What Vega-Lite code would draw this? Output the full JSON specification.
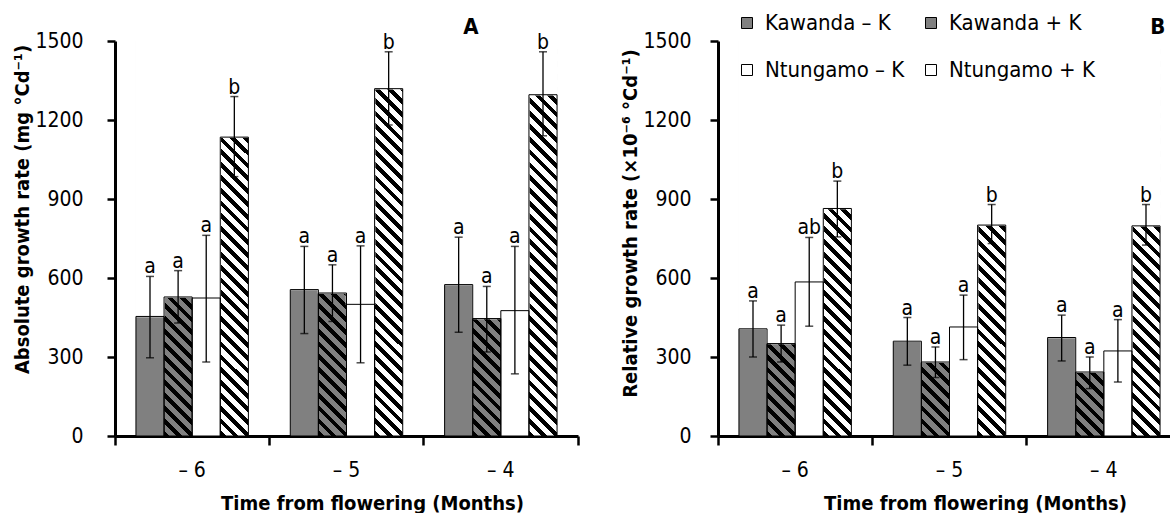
{
 "$schema": "https://vega.github.io/schema/vega-lite/v6.json",
 "background": "white",
 "padding": {"left": 12, "top": 12, "right": 0, "bottom": 0},
 "spacing": 40,
 "resolve": {"scale": {"fill": "independent"}, "legend": {"fill": "independent"}},
 "config": {
  "font": "DejaVu Sans Condensed, Liberation Sans, sans-serif",
  "view": {"stroke": null},
  "axis": {"domainColor": "black", "domainWidth": 3, "tickColor": "black", "tickWidth": 2.5, "labelColor": "black", "labelFontSize": 21, "titleColor": "black", "titleFontSize": 20, "titleFontWeight": "bold", "grid": false},
  "legend": {"labelFontSize": 22, "labelColor": "black", "padding": 0}
 },
 "datasets": {
  "agr": [
   {"month": "– 6", "trt": "Kawanda – K", "mean": 454, "lo": 297, "hi": 606, "sig": "a"},
   {"month": "– 6", "trt": "Kawanda + K", "mean": 528, "lo": 429, "hi": 628, "sig": "a"},
   {"month": "– 6", "trt": "Ntungamo – K", "mean": 524, "lo": 281, "hi": 762, "sig": "a"},
   {"month": "– 6", "trt": "Ntungamo + K", "mean": 1135, "lo": 985, "hi": 1289, "sig": "b"},
   {"month": "– 5", "trt": "Kawanda – K", "mean": 556, "lo": 389, "hi": 720, "sig": "a"},
   {"month": "– 5", "trt": "Kawanda + K", "mean": 543, "lo": 435, "hi": 650, "sig": "a"},
   {"month": "– 5", "trt": "Ntungamo – K", "mean": 500, "lo": 278, "hi": 722, "sig": "a"},
   {"month": "– 5", "trt": "Ntungamo + K", "mean": 1319, "lo": 1181, "hi": 1459, "sig": "b"},
   {"month": "– 4", "trt": "Kawanda – K", "mean": 575, "lo": 394, "hi": 755, "sig": "a"},
   {"month": "– 4", "trt": "Kawanda + K", "mean": 446, "lo": 319, "hi": 568, "sig": "a"},
   {"month": "– 4", "trt": "Ntungamo – K", "mean": 476, "lo": 236, "hi": 720, "sig": "a"},
   {"month": "– 4", "trt": "Ntungamo + K", "mean": 1296, "lo": 1140, "hi": 1459, "sig": "b"}
  ],
  "rgr": [
   {"month": "– 6", "trt": "Kawanda – K", "mean": 407, "lo": 300, "hi": 513, "sig": "a"},
   {"month": "– 6", "trt": "Kawanda + K", "mean": 351, "lo": 281, "hi": 421, "sig": "a"},
   {"month": "– 6", "trt": "Ntungamo – K", "mean": 585, "lo": 417, "hi": 754, "sig": "ab"},
   {"month": "– 6", "trt": "Ntungamo + K", "mean": 864, "lo": 756, "hi": 968, "sig": "b"},
   {"month": "– 5", "trt": "Kawanda – K", "mean": 360, "lo": 269, "hi": 450, "sig": "a"},
   {"month": "– 5", "trt": "Kawanda + K", "mean": 281, "lo": 222, "hi": 338, "sig": "a"},
   {"month": "– 5", "trt": "Ntungamo – K", "mean": 414, "lo": 290, "hi": 535, "sig": "a"},
   {"month": "– 5", "trt": "Ntungamo + K", "mean": 801, "lo": 731, "hi": 879, "sig": "b"},
   {"month": "– 4", "trt": "Kawanda – K", "mean": 374, "lo": 285, "hi": 459, "sig": "a"},
   {"month": "– 4", "trt": "Kawanda + K", "mean": 243, "lo": 180, "hi": 300, "sig": "a"},
   {"month": "– 4", "trt": "Ntungamo – K", "mean": 323, "lo": 205, "hi": 442, "sig": "a"},
   {"month": "– 4", "trt": "Ntungamo + K", "mean": 798, "lo": 725, "hi": 879, "sig": "b"}
  ]
 },
 "hconcat": [
  {
   "width": 463, "height": 395,
   "data": {"name": "agr"},
   "layer": [
    {
     "encoding": {
      "x": {"field": "month", "type": "nominal", "sort": null, "scale": {"domain": ["– 6", "– 5", "– 4"], "paddingInner": 0, "paddingOuter": 0},
            "axis": {"title": "Time from flowering (Months)", "labelAngle": 0, "bandPosition": 1, "tickExtra": true, "tickSize": 9, "labelPadding": 14, "titleX": 257, "titlePadding": 13}},
      "xOffset": {"field": "trt", "type": "nominal", "sort": null, "scale": {"domain": ["Kawanda – K", "Kawanda + K", "Ntungamo – K", "Ntungamo + K"], "paddingInner": 0, "paddingOuter": 0.745}}
     },
     "layer": [
      {"mark": {"type": "bar"},
       "encoding": {
        "y": {"datum": 0, "type": "quantitative", "scale": {"domain": [0, 1500], "nice": false},
              "axis": {"title": "Absolute growth rate (mg °Cd⁻¹)", "values": [0, 300, 600, 900, 1200, 1500], "format": "d", "tickSize": 8, "labelPadding": 24, "titlePadding": 2, "titleY": 168}},
        "y2": {"datum": 1500},
        "fill": {"field": "trt", "type": "nominal", "legend": null,
         "scale": {"domain": ["Kawanda – K", "Kawanda + K", "Ntungamo – K", "Ntungamo + K"], "range": ["#808080", "#808080", "#ffffff", "#ffffff"]}}
       }
      },
      {"transform": [{"filter": "datum.trt === 'Kawanda + K'"}],
       "mark": {"type": "bar", "fill": {"gradient": "linear", "x1": 0, "y1": 1, "x2": 0.0758, "y2": -0.0657, "stops": [
{"offset":0,"color":"#000"},{"offset":0.0136,"color":"#000"},{"offset":0.0136,"color":"#808080"},{"offset":0.0303,"color":"#808080"},
{"offset":0.0303,"color":"#000"},{"offset":0.0439,"color":"#000"},{"offset":0.0439,"color":"#808080"},{"offset":0.0606,"color":"#808080"},
{"offset":0.0606,"color":"#000"},{"offset":0.0742,"color":"#000"},{"offset":0.0742,"color":"#808080"},{"offset":0.0909,"color":"#808080"},
{"offset":0.0909,"color":"#000"},{"offset":0.1045,"color":"#000"},{"offset":0.1045,"color":"#808080"},{"offset":0.1212,"color":"#808080"},
{"offset":0.1212,"color":"#000"},{"offset":0.1348,"color":"#000"},{"offset":0.1348,"color":"#808080"},{"offset":0.1515,"color":"#808080"},
{"offset":0.1515,"color":"#000"},{"offset":0.1652,"color":"#000"},{"offset":0.1652,"color":"#808080"},{"offset":0.1818,"color":"#808080"},
{"offset":0.1818,"color":"#000"},{"offset":0.1955,"color":"#000"},{"offset":0.1955,"color":"#808080"},{"offset":0.2121,"color":"#808080"},
{"offset":0.2121,"color":"#000"},{"offset":0.2258,"color":"#000"},{"offset":0.2258,"color":"#808080"},{"offset":0.2424,"color":"#808080"},
{"offset":0.2424,"color":"#000"},{"offset":0.2561,"color":"#000"},{"offset":0.2561,"color":"#808080"},{"offset":0.2727,"color":"#808080"},
{"offset":0.2727,"color":"#000"},{"offset":0.2864,"color":"#000"},{"offset":0.2864,"color":"#808080"},{"offset":0.303,"color":"#808080"},
{"offset":0.303,"color":"#000"},{"offset":0.3167,"color":"#000"},{"offset":0.3167,"color":"#808080"},{"offset":0.3333,"color":"#808080"},
{"offset":0.3333,"color":"#000"},{"offset":0.347,"color":"#000"},{"offset":0.347,"color":"#808080"},{"offset":0.3636,"color":"#808080"},
{"offset":0.3636,"color":"#000"},{"offset":0.3773,"color":"#000"},{"offset":0.3773,"color":"#808080"},{"offset":0.3939,"color":"#808080"},
{"offset":0.3939,"color":"#000"},{"offset":0.4076,"color":"#000"},{"offset":0.4076,"color":"#808080"},{"offset":0.4242,"color":"#808080"},
{"offset":0.4242,"color":"#000"},{"offset":0.4379,"color":"#000"},{"offset":0.4379,"color":"#808080"},{"offset":0.4545,"color":"#808080"},
{"offset":0.4545,"color":"#000"},{"offset":0.4682,"color":"#000"},{"offset":0.4682,"color":"#808080"},{"offset":0.4848,"color":"#808080"},
{"offset":0.4848,"color":"#000"},{"offset":0.4985,"color":"#000"},{"offset":0.4985,"color":"#808080"},{"offset":0.5152,"color":"#808080"},
{"offset":0.5152,"color":"#000"},{"offset":0.5288,"color":"#000"},{"offset":0.5288,"color":"#808080"},{"offset":0.5455,"color":"#808080"},
{"offset":0.5455,"color":"#000"},{"offset":0.5591,"color":"#000"},{"offset":0.5591,"color":"#808080"},{"offset":0.5758,"color":"#808080"},
{"offset":0.5758,"color":"#000"},{"offset":0.5894,"color":"#000"},{"offset":0.5894,"color":"#808080"},{"offset":0.6061,"color":"#808080"},
{"offset":0.6061,"color":"#000"},{"offset":0.6197,"color":"#000"},{"offset":0.6197,"color":"#808080"},{"offset":0.6364,"color":"#808080"},
{"offset":0.6364,"color":"#000"},{"offset":0.65,"color":"#000"},{"offset":0.65,"color":"#808080"},{"offset":0.6667,"color":"#808080"},
{"offset":0.6667,"color":"#000"},{"offset":0.6803,"color":"#000"},{"offset":0.6803,"color":"#808080"},{"offset":0.697,"color":"#808080"},
{"offset":0.697,"color":"#000"},{"offset":0.7106,"color":"#000"},{"offset":0.7106,"color":"#808080"},{"offset":0.7273,"color":"#808080"},
{"offset":0.7273,"color":"#000"},{"offset":0.7409,"color":"#000"},{"offset":0.7409,"color":"#808080"},{"offset":0.7576,"color":"#808080"},
{"offset":0.7576,"color":"#000"},{"offset":0.7712,"color":"#000"},{"offset":0.7712,"color":"#808080"},{"offset":0.7879,"color":"#808080"},
{"offset":0.7879,"color":"#000"},{"offset":0.8015,"color":"#000"},{"offset":0.8015,"color":"#808080"},{"offset":0.8182,"color":"#808080"},
{"offset":0.8182,"color":"#000"},{"offset":0.8318,"color":"#000"},{"offset":0.8318,"color":"#808080"},{"offset":0.8485,"color":"#808080"},
{"offset":0.8485,"color":"#000"},{"offset":0.8621,"color":"#000"},{"offset":0.8621,"color":"#808080"},{"offset":0.8788,"color":"#808080"},
{"offset":0.8788,"color":"#000"},{"offset":0.8924,"color":"#000"},{"offset":0.8924,"color":"#808080"},{"offset":0.9091,"color":"#808080"},
{"offset":0.9091,"color":"#000"},{"offset":0.9227,"color":"#000"},{"offset":0.9227,"color":"#808080"},{"offset":0.9394,"color":"#808080"},
{"offset":0.9394,"color":"#000"},{"offset":0.953,"color":"#000"},{"offset":0.953,"color":"#808080"},{"offset":0.9697,"color":"#808080"},
{"offset":0.9697,"color":"#000"},{"offset":0.9833,"color":"#000"},{"offset":0.9833,"color":"#808080"},{"offset":1,"color":"#808080"}
       ]}},
       "encoding": {"y": {"datum": 0, "type": "quantitative"}, "y2": {"datum": 1500}}
      },
      {"transform": [{"filter": "datum.trt === 'Ntungamo + K'"}],
       "mark": {"type": "bar", "fill": {"gradient": "linear", "x1": 0, "y1": 1, "x2": 0.0758, "y2": -0.0657, "stops": [
{"offset":0,"color":"#000"},{"offset":0.0136,"color":"#000"},{"offset":0.0136,"color":"#fff"},{"offset":0.0303,"color":"#fff"},
{"offset":0.0303,"color":"#000"},{"offset":0.0439,"color":"#000"},{"offset":0.0439,"color":"#fff"},{"offset":0.0606,"color":"#fff"},
{"offset":0.0606,"color":"#000"},{"offset":0.0742,"color":"#000"},{"offset":0.0742,"color":"#fff"},{"offset":0.0909,"color":"#fff"},
{"offset":0.0909,"color":"#000"},{"offset":0.1045,"color":"#000"},{"offset":0.1045,"color":"#fff"},{"offset":0.1212,"color":"#fff"},
{"offset":0.1212,"color":"#000"},{"offset":0.1348,"color":"#000"},{"offset":0.1348,"color":"#fff"},{"offset":0.1515,"color":"#fff"},
{"offset":0.1515,"color":"#000"},{"offset":0.1652,"color":"#000"},{"offset":0.1652,"color":"#fff"},{"offset":0.1818,"color":"#fff"},
{"offset":0.1818,"color":"#000"},{"offset":0.1955,"color":"#000"},{"offset":0.1955,"color":"#fff"},{"offset":0.2121,"color":"#fff"},
{"offset":0.2121,"color":"#000"},{"offset":0.2258,"color":"#000"},{"offset":0.2258,"color":"#fff"},{"offset":0.2424,"color":"#fff"},
{"offset":0.2424,"color":"#000"},{"offset":0.2561,"color":"#000"},{"offset":0.2561,"color":"#fff"},{"offset":0.2727,"color":"#fff"},
{"offset":0.2727,"color":"#000"},{"offset":0.2864,"color":"#000"},{"offset":0.2864,"color":"#fff"},{"offset":0.303,"color":"#fff"},
{"offset":0.303,"color":"#000"},{"offset":0.3167,"color":"#000"},{"offset":0.3167,"color":"#fff"},{"offset":0.3333,"color":"#fff"},
{"offset":0.3333,"color":"#000"},{"offset":0.347,"color":"#000"},{"offset":0.347,"color":"#fff"},{"offset":0.3636,"color":"#fff"},
{"offset":0.3636,"color":"#000"},{"offset":0.3773,"color":"#000"},{"offset":0.3773,"color":"#fff"},{"offset":0.3939,"color":"#fff"},
{"offset":0.3939,"color":"#000"},{"offset":0.4076,"color":"#000"},{"offset":0.4076,"color":"#fff"},{"offset":0.4242,"color":"#fff"},
{"offset":0.4242,"color":"#000"},{"offset":0.4379,"color":"#000"},{"offset":0.4379,"color":"#fff"},{"offset":0.4545,"color":"#fff"},
{"offset":0.4545,"color":"#000"},{"offset":0.4682,"color":"#000"},{"offset":0.4682,"color":"#fff"},{"offset":0.4848,"color":"#fff"},
{"offset":0.4848,"color":"#000"},{"offset":0.4985,"color":"#000"},{"offset":0.4985,"color":"#fff"},{"offset":0.5152,"color":"#fff"},
{"offset":0.5152,"color":"#000"},{"offset":0.5288,"color":"#000"},{"offset":0.5288,"color":"#fff"},{"offset":0.5455,"color":"#fff"},
{"offset":0.5455,"color":"#000"},{"offset":0.5591,"color":"#000"},{"offset":0.5591,"color":"#fff"},{"offset":0.5758,"color":"#fff"},
{"offset":0.5758,"color":"#000"},{"offset":0.5894,"color":"#000"},{"offset":0.5894,"color":"#fff"},{"offset":0.6061,"color":"#fff"},
{"offset":0.6061,"color":"#000"},{"offset":0.6197,"color":"#000"},{"offset":0.6197,"color":"#fff"},{"offset":0.6364,"color":"#fff"},
{"offset":0.6364,"color":"#000"},{"offset":0.65,"color":"#000"},{"offset":0.65,"color":"#fff"},{"offset":0.6667,"color":"#fff"},
{"offset":0.6667,"color":"#000"},{"offset":0.6803,"color":"#000"},{"offset":0.6803,"color":"#fff"},{"offset":0.697,"color":"#fff"},
{"offset":0.697,"color":"#000"},{"offset":0.7106,"color":"#000"},{"offset":0.7106,"color":"#fff"},{"offset":0.7273,"color":"#fff"},
{"offset":0.7273,"color":"#000"},{"offset":0.7409,"color":"#000"},{"offset":0.7409,"color":"#fff"},{"offset":0.7576,"color":"#fff"},
{"offset":0.7576,"color":"#000"},{"offset":0.7712,"color":"#000"},{"offset":0.7712,"color":"#fff"},{"offset":0.7879,"color":"#fff"},
{"offset":0.7879,"color":"#000"},{"offset":0.8015,"color":"#000"},{"offset":0.8015,"color":"#fff"},{"offset":0.8182,"color":"#fff"},
{"offset":0.8182,"color":"#000"},{"offset":0.8318,"color":"#000"},{"offset":0.8318,"color":"#fff"},{"offset":0.8485,"color":"#fff"},
{"offset":0.8485,"color":"#000"},{"offset":0.8621,"color":"#000"},{"offset":0.8621,"color":"#fff"},{"offset":0.8788,"color":"#fff"},
{"offset":0.8788,"color":"#000"},{"offset":0.8924,"color":"#000"},{"offset":0.8924,"color":"#fff"},{"offset":0.9091,"color":"#fff"},
{"offset":0.9091,"color":"#000"},{"offset":0.9227,"color":"#000"},{"offset":0.9227,"color":"#fff"},{"offset":0.9394,"color":"#fff"},
{"offset":0.9394,"color":"#000"},{"offset":0.953,"color":"#000"},{"offset":0.953,"color":"#fff"},{"offset":0.9697,"color":"#fff"},
{"offset":0.9697,"color":"#000"},{"offset":0.9833,"color":"#000"},{"offset":0.9833,"color":"#fff"},{"offset":1,"color":"#fff"}
       ]}},
       "encoding": {"y": {"datum": 0, "type": "quantitative"}, "y2": {"datum": 1500}}
      },
      {"mark": {"type": "bar", "fill": "white", "stroke": "white", "strokeWidth": 1.5},
       "encoding": {"y": {"field": "mean", "type": "quantitative"}, "y2": {"datum": 1500}}},
      {"mark": {"type": "bar", "fillOpacity": 0, "stroke": "black", "strokeWidth": 1},
       "encoding": {"y": {"field": "mean", "type": "quantitative"}}},
      {"mark": {"type": "rule", "color": "black", "strokeWidth": 1.3},
       "encoding": {"y": {"field": "lo", "type": "quantitative"}, "y2": {"field": "hi"}}},
      {"mark": {"type": "tick", "orient": "horizontal", "color": "black", "size": 8, "thickness": 1.5},
       "encoding": {"y": {"field": "hi", "type": "quantitative"}}},
      {"mark": {"type": "tick", "orient": "horizontal", "color": "black", "size": 8, "thickness": 1.5},
       "encoding": {"y": {"field": "lo", "type": "quantitative"}}},
      {"mark": {"type": "text", "baseline": "alphabetic", "dy": -3, "fontSize": 21, "color": "black"},
       "encoding": {"y": {"field": "hi", "type": "quantitative"}, "text": {"field": "sig"}}}
     ]
    },
    {"data": {"values": [{"panel": "A"}]},
     "mark": {"type": "text", "baseline": "alphabetic", "dx": -30, "dy": -7, "fontSize": 22, "fontWeight": "bold", "color": "black"},
     "encoding": {"x": {"datum": "– 4", "type": "nominal"}, "y": {"datum": 1500, "type": "quantitative"}, "text": {"field": "panel"}}}
   ]
  },
  {
   "width": 463, "height": 395,
   "data": {"name": "rgr"},
   "layer": [
    {
     "encoding": {
      "x": {"field": "month", "type": "nominal", "sort": null, "scale": {"domain": ["– 6", "– 5", "– 4"], "paddingInner": 0, "paddingOuter": 0},
            "axis": {"title": "Time from flowering (Months)", "labelAngle": 0, "bandPosition": 1, "tickExtra": true, "tickSize": 9, "labelPadding": 14, "titleX": 257, "titlePadding": 13}},
      "xOffset": {"field": "trt", "type": "nominal", "sort": null, "scale": {"domain": ["Kawanda – K", "Kawanda + K", "Ntungamo – K", "Ntungamo + K"], "paddingInner": 0, "paddingOuter": 0.745}}
     },
     "layer": [
      {"mark": {"type": "bar"},
       "encoding": {
        "y": {"datum": 0, "type": "quantitative", "scale": {"domain": [0, 1500], "nice": false},
              "axis": {"title": "Relative growth rate (×10⁻⁶ °Cd⁻¹)", "values": [0, 300, 600, 900, 1200, 1500], "format": "d", "tickSize": 8, "labelPadding": 19, "titlePadding": 2, "titleY": 182}},
        "y2": {"datum": 1500},
        "fill": {"field": "trt", "type": "nominal",
         "scale": {"domain": ["Kawanda – K", "Kawanda + K", "Ntungamo – K", "Ntungamo + K"], "range": ["#808080", "#808080", "#ffffff", "#ffffff"]},
         "legend": {"title": null, "orient": "none", "legendX": 18, "legendY": -29, "columns": 2, "direction": "horizontal", "symbolType": "square", "symbolSize": 121, "symbolStrokeColor": "black", "symbolStrokeWidth": 1, "labelFontSize": 22, "rowPadding": 25, "columnPadding": 15, "labelOffset": 7}
        }
       }
      },
      {"transform": [{"filter": "datum.trt === 'Kawanda + K'"}],
       "mark": {"type": "bar", "fill": {"gradient": "linear", "x1": 0, "y1": 1, "x2": 0.0758, "y2": -0.0657, "stops": [
{"offset":0,"color":"#000"},{"offset":0.0136,"color":"#000"},{"offset":0.0136,"color":"#808080"},{"offset":0.0303,"color":"#808080"},
{"offset":0.0303,"color":"#000"},{"offset":0.0439,"color":"#000"},{"offset":0.0439,"color":"#808080"},{"offset":0.0606,"color":"#808080"},
{"offset":0.0606,"color":"#000"},{"offset":0.0742,"color":"#000"},{"offset":0.0742,"color":"#808080"},{"offset":0.0909,"color":"#808080"},
{"offset":0.0909,"color":"#000"},{"offset":0.1045,"color":"#000"},{"offset":0.1045,"color":"#808080"},{"offset":0.1212,"color":"#808080"},
{"offset":0.1212,"color":"#000"},{"offset":0.1348,"color":"#000"},{"offset":0.1348,"color":"#808080"},{"offset":0.1515,"color":"#808080"},
{"offset":0.1515,"color":"#000"},{"offset":0.1652,"color":"#000"},{"offset":0.1652,"color":"#808080"},{"offset":0.1818,"color":"#808080"},
{"offset":0.1818,"color":"#000"},{"offset":0.1955,"color":"#000"},{"offset":0.1955,"color":"#808080"},{"offset":0.2121,"color":"#808080"},
{"offset":0.2121,"color":"#000"},{"offset":0.2258,"color":"#000"},{"offset":0.2258,"color":"#808080"},{"offset":0.2424,"color":"#808080"},
{"offset":0.2424,"color":"#000"},{"offset":0.2561,"color":"#000"},{"offset":0.2561,"color":"#808080"},{"offset":0.2727,"color":"#808080"},
{"offset":0.2727,"color":"#000"},{"offset":0.2864,"color":"#000"},{"offset":0.2864,"color":"#808080"},{"offset":0.303,"color":"#808080"},
{"offset":0.303,"color":"#000"},{"offset":0.3167,"color":"#000"},{"offset":0.3167,"color":"#808080"},{"offset":0.3333,"color":"#808080"},
{"offset":0.3333,"color":"#000"},{"offset":0.347,"color":"#000"},{"offset":0.347,"color":"#808080"},{"offset":0.3636,"color":"#808080"},
{"offset":0.3636,"color":"#000"},{"offset":0.3773,"color":"#000"},{"offset":0.3773,"color":"#808080"},{"offset":0.3939,"color":"#808080"},
{"offset":0.3939,"color":"#000"},{"offset":0.4076,"color":"#000"},{"offset":0.4076,"color":"#808080"},{"offset":0.4242,"color":"#808080"},
{"offset":0.4242,"color":"#000"},{"offset":0.4379,"color":"#000"},{"offset":0.4379,"color":"#808080"},{"offset":0.4545,"color":"#808080"},
{"offset":0.4545,"color":"#000"},{"offset":0.4682,"color":"#000"},{"offset":0.4682,"color":"#808080"},{"offset":0.4848,"color":"#808080"},
{"offset":0.4848,"color":"#000"},{"offset":0.4985,"color":"#000"},{"offset":0.4985,"color":"#808080"},{"offset":0.5152,"color":"#808080"},
{"offset":0.5152,"color":"#000"},{"offset":0.5288,"color":"#000"},{"offset":0.5288,"color":"#808080"},{"offset":0.5455,"color":"#808080"},
{"offset":0.5455,"color":"#000"},{"offset":0.5591,"color":"#000"},{"offset":0.5591,"color":"#808080"},{"offset":0.5758,"color":"#808080"},
{"offset":0.5758,"color":"#000"},{"offset":0.5894,"color":"#000"},{"offset":0.5894,"color":"#808080"},{"offset":0.6061,"color":"#808080"},
{"offset":0.6061,"color":"#000"},{"offset":0.6197,"color":"#000"},{"offset":0.6197,"color":"#808080"},{"offset":0.6364,"color":"#808080"},
{"offset":0.6364,"color":"#000"},{"offset":0.65,"color":"#000"},{"offset":0.65,"color":"#808080"},{"offset":0.6667,"color":"#808080"},
{"offset":0.6667,"color":"#000"},{"offset":0.6803,"color":"#000"},{"offset":0.6803,"color":"#808080"},{"offset":0.697,"color":"#808080"},
{"offset":0.697,"color":"#000"},{"offset":0.7106,"color":"#000"},{"offset":0.7106,"color":"#808080"},{"offset":0.7273,"color":"#808080"},
{"offset":0.7273,"color":"#000"},{"offset":0.7409,"color":"#000"},{"offset":0.7409,"color":"#808080"},{"offset":0.7576,"color":"#808080"},
{"offset":0.7576,"color":"#000"},{"offset":0.7712,"color":"#000"},{"offset":0.7712,"color":"#808080"},{"offset":0.7879,"color":"#808080"},
{"offset":0.7879,"color":"#000"},{"offset":0.8015,"color":"#000"},{"offset":0.8015,"color":"#808080"},{"offset":0.8182,"color":"#808080"},
{"offset":0.8182,"color":"#000"},{"offset":0.8318,"color":"#000"},{"offset":0.8318,"color":"#808080"},{"offset":0.8485,"color":"#808080"},
{"offset":0.8485,"color":"#000"},{"offset":0.8621,"color":"#000"},{"offset":0.8621,"color":"#808080"},{"offset":0.8788,"color":"#808080"},
{"offset":0.8788,"color":"#000"},{"offset":0.8924,"color":"#000"},{"offset":0.8924,"color":"#808080"},{"offset":0.9091,"color":"#808080"},
{"offset":0.9091,"color":"#000"},{"offset":0.9227,"color":"#000"},{"offset":0.9227,"color":"#808080"},{"offset":0.9394,"color":"#808080"},
{"offset":0.9394,"color":"#000"},{"offset":0.953,"color":"#000"},{"offset":0.953,"color":"#808080"},{"offset":0.9697,"color":"#808080"},
{"offset":0.9697,"color":"#000"},{"offset":0.9833,"color":"#000"},{"offset":0.9833,"color":"#808080"},{"offset":1,"color":"#808080"}
       ]}},
       "encoding": {"y": {"datum": 0, "type": "quantitative"}, "y2": {"datum": 1500}}
      },
      {"transform": [{"filter": "datum.trt === 'Ntungamo + K'"}],
       "mark": {"type": "bar", "fill": {"gradient": "linear", "x1": 0, "y1": 1, "x2": 0.0758, "y2": -0.0657, "stops": [
{"offset":0,"color":"#000"},{"offset":0.0136,"color":"#000"},{"offset":0.0136,"color":"#fff"},{"offset":0.0303,"color":"#fff"},
{"offset":0.0303,"color":"#000"},{"offset":0.0439,"color":"#000"},{"offset":0.0439,"color":"#fff"},{"offset":0.0606,"color":"#fff"},
{"offset":0.0606,"color":"#000"},{"offset":0.0742,"color":"#000"},{"offset":0.0742,"color":"#fff"},{"offset":0.0909,"color":"#fff"},
{"offset":0.0909,"color":"#000"},{"offset":0.1045,"color":"#000"},{"offset":0.1045,"color":"#fff"},{"offset":0.1212,"color":"#fff"},
{"offset":0.1212,"color":"#000"},{"offset":0.1348,"color":"#000"},{"offset":0.1348,"color":"#fff"},{"offset":0.1515,"color":"#fff"},
{"offset":0.1515,"color":"#000"},{"offset":0.1652,"color":"#000"},{"offset":0.1652,"color":"#fff"},{"offset":0.1818,"color":"#fff"},
{"offset":0.1818,"color":"#000"},{"offset":0.1955,"color":"#000"},{"offset":0.1955,"color":"#fff"},{"offset":0.2121,"color":"#fff"},
{"offset":0.2121,"color":"#000"},{"offset":0.2258,"color":"#000"},{"offset":0.2258,"color":"#fff"},{"offset":0.2424,"color":"#fff"},
{"offset":0.2424,"color":"#000"},{"offset":0.2561,"color":"#000"},{"offset":0.2561,"color":"#fff"},{"offset":0.2727,"color":"#fff"},
{"offset":0.2727,"color":"#000"},{"offset":0.2864,"color":"#000"},{"offset":0.2864,"color":"#fff"},{"offset":0.303,"color":"#fff"},
{"offset":0.303,"color":"#000"},{"offset":0.3167,"color":"#000"},{"offset":0.3167,"color":"#fff"},{"offset":0.3333,"color":"#fff"},
{"offset":0.3333,"color":"#000"},{"offset":0.347,"color":"#000"},{"offset":0.347,"color":"#fff"},{"offset":0.3636,"color":"#fff"},
{"offset":0.3636,"color":"#000"},{"offset":0.3773,"color":"#000"},{"offset":0.3773,"color":"#fff"},{"offset":0.3939,"color":"#fff"},
{"offset":0.3939,"color":"#000"},{"offset":0.4076,"color":"#000"},{"offset":0.4076,"color":"#fff"},{"offset":0.4242,"color":"#fff"},
{"offset":0.4242,"color":"#000"},{"offset":0.4379,"color":"#000"},{"offset":0.4379,"color":"#fff"},{"offset":0.4545,"color":"#fff"},
{"offset":0.4545,"color":"#000"},{"offset":0.4682,"color":"#000"},{"offset":0.4682,"color":"#fff"},{"offset":0.4848,"color":"#fff"},
{"offset":0.4848,"color":"#000"},{"offset":0.4985,"color":"#000"},{"offset":0.4985,"color":"#fff"},{"offset":0.5152,"color":"#fff"},
{"offset":0.5152,"color":"#000"},{"offset":0.5288,"color":"#000"},{"offset":0.5288,"color":"#fff"},{"offset":0.5455,"color":"#fff"},
{"offset":0.5455,"color":"#000"},{"offset":0.5591,"color":"#000"},{"offset":0.5591,"color":"#fff"},{"offset":0.5758,"color":"#fff"},
{"offset":0.5758,"color":"#000"},{"offset":0.5894,"color":"#000"},{"offset":0.5894,"color":"#fff"},{"offset":0.6061,"color":"#fff"},
{"offset":0.6061,"color":"#000"},{"offset":0.6197,"color":"#000"},{"offset":0.6197,"color":"#fff"},{"offset":0.6364,"color":"#fff"},
{"offset":0.6364,"color":"#000"},{"offset":0.65,"color":"#000"},{"offset":0.65,"color":"#fff"},{"offset":0.6667,"color":"#fff"},
{"offset":0.6667,"color":"#000"},{"offset":0.6803,"color":"#000"},{"offset":0.6803,"color":"#fff"},{"offset":0.697,"color":"#fff"},
{"offset":0.697,"color":"#000"},{"offset":0.7106,"color":"#000"},{"offset":0.7106,"color":"#fff"},{"offset":0.7273,"color":"#fff"},
{"offset":0.7273,"color":"#000"},{"offset":0.7409,"color":"#000"},{"offset":0.7409,"color":"#fff"},{"offset":0.7576,"color":"#fff"},
{"offset":0.7576,"color":"#000"},{"offset":0.7712,"color":"#000"},{"offset":0.7712,"color":"#fff"},{"offset":0.7879,"color":"#fff"},
{"offset":0.7879,"color":"#000"},{"offset":0.8015,"color":"#000"},{"offset":0.8015,"color":"#fff"},{"offset":0.8182,"color":"#fff"},
{"offset":0.8182,"color":"#000"},{"offset":0.8318,"color":"#000"},{"offset":0.8318,"color":"#fff"},{"offset":0.8485,"color":"#fff"},
{"offset":0.8485,"color":"#000"},{"offset":0.8621,"color":"#000"},{"offset":0.8621,"color":"#fff"},{"offset":0.8788,"color":"#fff"},
{"offset":0.8788,"color":"#000"},{"offset":0.8924,"color":"#000"},{"offset":0.8924,"color":"#fff"},{"offset":0.9091,"color":"#fff"},
{"offset":0.9091,"color":"#000"},{"offset":0.9227,"color":"#000"},{"offset":0.9227,"color":"#fff"},{"offset":0.9394,"color":"#fff"},
{"offset":0.9394,"color":"#000"},{"offset":0.953,"color":"#000"},{"offset":0.953,"color":"#fff"},{"offset":0.9697,"color":"#fff"},
{"offset":0.9697,"color":"#000"},{"offset":0.9833,"color":"#000"},{"offset":0.9833,"color":"#fff"},{"offset":1,"color":"#fff"}
       ]}},
       "encoding": {"y": {"datum": 0, "type": "quantitative"}, "y2": {"datum": 1500}}
      },
      {"mark": {"type": "bar", "fill": "white", "stroke": "white", "strokeWidth": 1.5},
       "encoding": {"y": {"field": "mean", "type": "quantitative"}, "y2": {"datum": 1500}}},
      {"mark": {"type": "bar", "fillOpacity": 0, "stroke": "black", "strokeWidth": 1},
       "encoding": {"y": {"field": "mean", "type": "quantitative"}}},
      {"mark": {"type": "rule", "color": "black", "strokeWidth": 1.3},
       "encoding": {"y": {"field": "lo", "type": "quantitative"}, "y2": {"field": "hi"}}},
      {"mark": {"type": "tick", "orient": "horizontal", "color": "black", "size": 8, "thickness": 1.5},
       "encoding": {"y": {"field": "hi", "type": "quantitative"}}},
      {"mark": {"type": "tick", "orient": "horizontal", "color": "black", "size": 8, "thickness": 1.5},
       "encoding": {"y": {"field": "lo", "type": "quantitative"}}},
      {"mark": {"type": "text", "baseline": "alphabetic", "dy": -3, "fontSize": 21, "color": "black"},
       "encoding": {"y": {"field": "hi", "type": "quantitative"}, "text": {"field": "sig"}}}
     ]
    },
    {"data": {"values": [{"panel": "B"}]},
     "mark": {"type": "text", "baseline": "alphabetic", "dx": 54, "dy": -7, "fontSize": 22, "fontWeight": "bold", "color": "black"},
     "encoding": {"x": {"datum": "– 4", "type": "nominal"}, "y": {"datum": 1500, "type": "quantitative"}, "text": {"field": "panel"}}}
   ]
  }
 ]
}
